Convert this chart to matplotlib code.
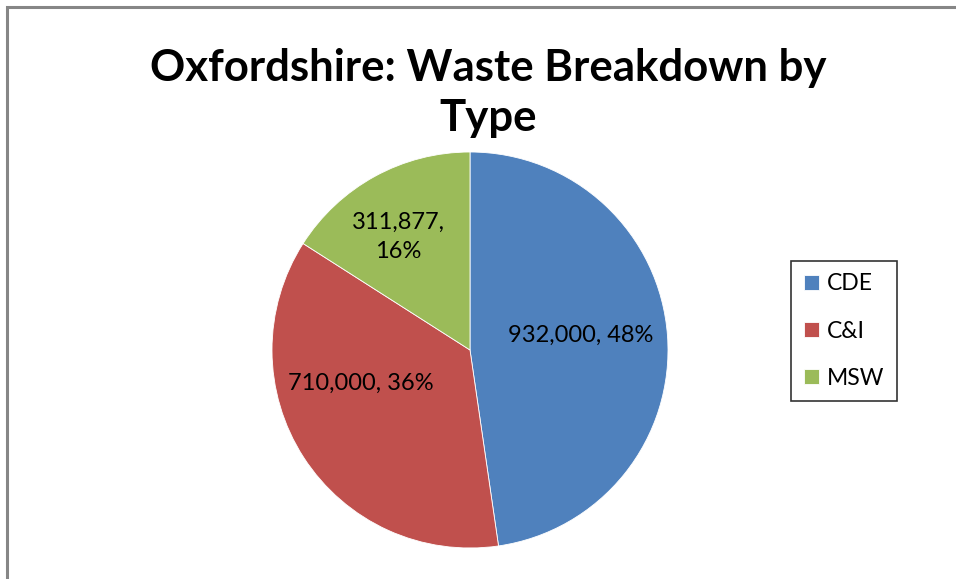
"""Oxfordshire waste breakdown pie chart."""

import matplotlib.pyplot as plt
from matplotlib.patches import Rectangle

categories = ["CDE", "C&I", "MSW"]
tonnes = [932000, 710000, 311877]
colors = ["#4F81BD", "#C0504D", "#9BBB59"]

W, H = 956, 579
fig = plt.figure(figsize=(W / 100, H / 100), dpi=100)

# chart border (cut off at right and bottom like the original)
fig.add_artist(Rectangle((7 / W, -0.1), 1.1, 1.1 - 7 / H, transform=fig.transFigure,
                         fill=False, edgecolor="#868686", linewidth=2.2))

# pie axes: centre (470, 350), radius ~198 px
r = 198
cx, cy = 470, 350
ax = fig.add_axes([(cx - r) / W, 1 - (cy + r) / H, 2 * r / W, 2 * r / H])

total = sum(tonnes)
wedges, _ = ax.pie(tonnes, colors=colors, startangle=90, counterclock=False,
                   wedgeprops=dict(edgecolor="white", linewidth=0.6))
ax.set_xlim(-1, 1)
ax.set_ylim(-1, 1)
ax.set_aspect("equal")

label_font = dict(family="Lato", fontsize=17, color="black")
pcts = [round(v / total * 100) for v in tonnes]
ax.text(0.56, 0.076, f"{tonnes[0]:,}, {pcts[0]}%", ha="center", va="center", **label_font)
ax.text(-0.55, -0.167, f"{tonnes[1]:,}, {pcts[1]}%", ha="center", va="center", **label_font)
ax.text(-0.364, 0.57, f"{tonnes[2]:,},\n{pcts[2]}%", ha="center", va="center",
        linespacing=1.45, **label_font)

fig.text(488 / W, 1 - 68 / H, "Oxfordshire: Waste Breakdown by", ha="center", va="center",
         family="Lato", fontweight="bold", fontsize=31.5)
fig.text(488 / W, 1 - 118 / H, "Type", ha="center", va="center",
         family="Lato", fontweight="bold", fontsize=31.5)

leg = fig.legend(wedges, categories, loc="center",
                 bbox_to_anchor=(844 / W, 1 - 331 / H),
                 prop=dict(family="Lato", size=16.5), frameon=True, fancybox=False,
                 handlelength=0.65, handleheight=0.65, handletextpad=0.35,
                 labelspacing=1.14, borderpad=0.55, borderaxespad=0)
leg.get_frame().set_edgecolor("black")
leg.get_frame().set_linewidth(1.2)

fig.savefig("out.png", dpi=100)
